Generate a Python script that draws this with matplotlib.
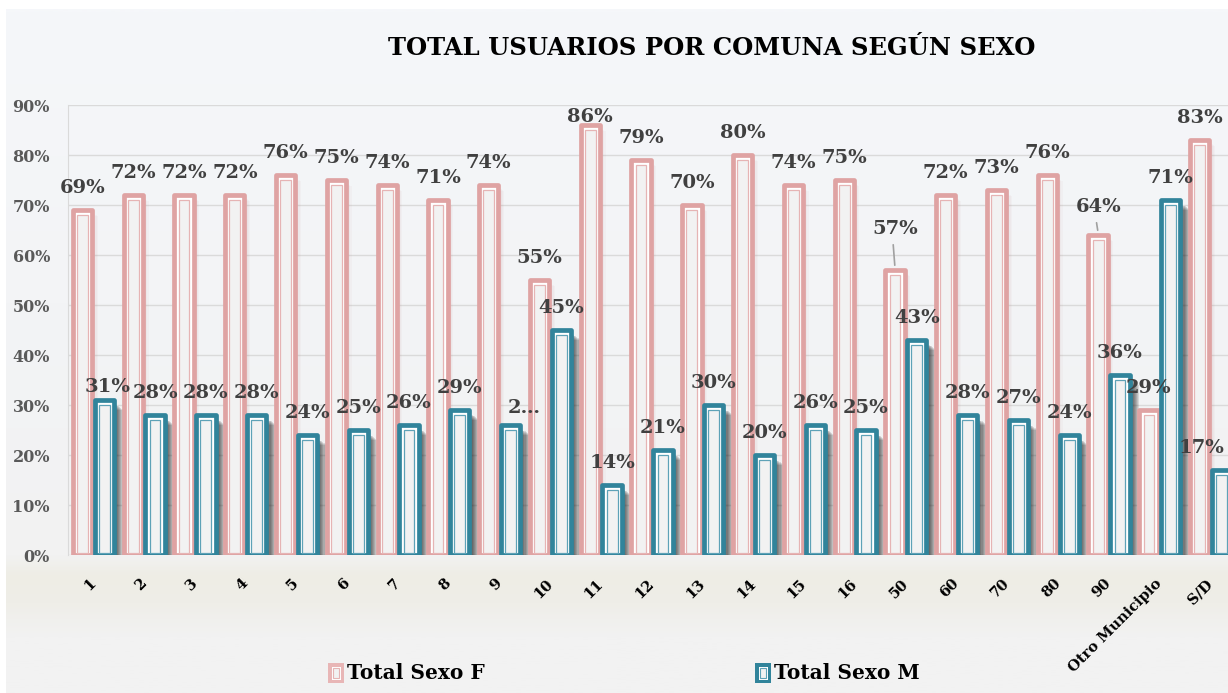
import matplotlib
matplotlib.use('Agg')
import matplotlib.pyplot as plt
import numpy as np
from matplotlib.colors import LinearSegmentedColormap
from matplotlib.patches import Rectangle

# ---------------- data ----------------
categories = ['1', '2', '3', '4', '5', '6', '7', '8', '9', '10', '11', '12', '13',
              '14', '15', '16', '50', '60', '70', '80', '90', 'Otro Municipio', 'S/D']
total_f = [69, 72, 72, 72, 76, 75, 74, 71, 74, 55, 86, 79, 70, 80, 74, 75, 57, 72, 73, 76, 64, 29, 83]
total_m = [31, 28, 28, 28, 24, 25, 26, 29, 26, 45, 14, 21, 30, 20, 26, 25, 43, 28, 27, 24, 36, 71, 17]
y_ticks = [0, 10, 20, 30, 40, 50, 60, 70, 80, 90]
series_names = ['Total Sexo F', 'Total Sexo M']
title = 'TOTAL USUARIOS POR COMUNA SEGÚN SEXO'

# ---------------- style ----------------
W, H = 1228, 693
PINK = '#DFA3A3'
PINK_IN = '#E6B4B4'
TEAL = '#31849B'
TEAL_IN = '#5EA2B7'
FILL = '#F2F2F2'
LBL = '#404040'
SERIF = 'DejaVu Serif'

fig = plt.figure(figsize=(W / 100, H / 100), dpi=100)
fig.patch.set_facecolor('white')

# background gradient (chart area)
bg = fig.add_axes([6 / W, 0, 1 - 6 / W, (H - 9) / H], zorder=-10)
stops = [(0.0, '#F5F7FA'), (0.43, '#F3F4F6'), (0.80, '#F2F2F2'),
         (0.83, '#EEEDE5'), (0.87, '#EFEEE8'), (0.92, '#F2F2F2'), (1.0, '#F2F2F2')]
cmap = LinearSegmentedColormap.from_list('bg', stops)
grad = np.linspace(0, 1, 400).reshape(-1, 1)
bg.imshow(grad, aspect='auto', cmap=cmap, extent=[0, 1, 0, 1], origin='upper')
bg.set_axis_off()

# main axes
x0_px, x1_px = 68, 1236
y0_px, y1_px = 555, 105
ax = fig.add_axes([x0_px / W, (H - y0_px) / H, (x1_px - x0_px) / W, (y0_px - y1_px) / H])
ax.set_facecolor('none')
n = len(categories)
x = np.arange(n)
ax.set_xlim(-0.5, n - 0.5)
ax.set_ylim(0, 0.9)

px_x = (x1_px - x0_px) / n          # pixels per x unit
px_y = (y0_px - y1_px) / 0.9        # pixels per y unit

w = 0.38
off = 0.215
fv = np.array(total_f) / 100
mv = np.array(total_m) / 100

# grid
for t in y_ticks:
    ax.axhline(t / 100, color='#DADADA', lw=1.0, zorder=0)
for s in ['top', 'right', 'bottom']:
    ax.spines[s].set_visible(False)
ax.spines['left'].set_color('#DADADA')

# shadows for M bars (soft drop shadow to the right)
for k in range(8):
    dx = (2 + k * 1.1) / px_x
    ax.bar(x + off + dx, mv - (4 + k * 0.8) / px_y, width=w, bottom=0,
           color='black', alpha=0.11, lw=0, zorder=1)
# light glow for F bars
for k in range(4):
    dx = (2 + k * 1.2) / px_x
    ax.bar(x - off + dx, fv - (3 + k) / px_y, width=w, bottom=0,
           color='#B07070', alpha=0.045, lw=0, zorder=1)

# F bars
ax.bar(x - off, fv, width=w, color='white', edgecolor=PINK, lw=3.4,
       joinstyle='round', zorder=3)
ax.bar(x - off, fv - 6.5 / px_y, width=w - 8.5 / px_x, bottom=2 / px_y,
       color=FILL, edgecolor=PINK_IN, lw=0.9, zorder=4)
# M bars
ax.bar(x + off, mv, width=w, color='white', edgecolor=TEAL, lw=3.4,
       joinstyle='round', zorder=3)
ax.bar(x + off, mv - 6.5 / px_y, width=w - 8.5 / px_x, bottom=2 / px_y,
       color=FILL, edgecolor=TEAL_IN, lw=0.9, zorder=4)

# data labels
default_dy = 17
adj_f = {10: (0, 3), 16: (0, 36), 20: (0, 23)}
adj_m = {0: (3, 8), 8: (14, 12), 22: (-20, 17)}
leader_f = [16, 20]

for i in range(n):
    dx, dy = adj_f.get(i, (0, default_dy))
    ax.annotate(f'{total_f[i]}%', (x[i] - off, fv[i]), xytext=(dx * 0.72, dy * 0.72),
                textcoords='offset points', ha='center', va='baseline',
                fontsize=14, fontweight='bold', family=SERIF, color=LBL,
                zorder=6, annotation_clip=False)
    if i in leader_f:
        ax.annotate('', (x[i] - off, fv[i] + 2 / px_y),
                    xytext=(x[i] - off - 2 / px_x, fv[i] + (dy - 8) / px_y),
                    arrowprops=dict(arrowstyle='-', color='#A0A0A0', lw=1.2), zorder=5)
    dx, dy = adj_m.get(i, (0, default_dy))
    txt = '2…' if i == 8 else f'{total_m[i]}%'
    ax.annotate(txt, (x[i] + off, mv[i]), xytext=(dx * 0.72, dy * 0.72),
                textcoords='offset points', ha='center', va='baseline',
                fontsize=14, fontweight='bold', family=SERIF, color=LBL,
                zorder=6, annotation_clip=False)

# ticks
ax.set_yticks([t / 100 for t in y_ticks])
ax.set_yticklabels([f'{t}%' for t in y_ticks], fontsize=11.5, fontweight='bold',
                   family=SERIF, color='#595959')
ax.tick_params(axis='y', length=0, pad=13)
ax.set_xticks(x)
ax.set_xticklabels(categories, rotation=45, ha='right', va='center',
                   rotation_mode='anchor', fontsize=10.5, fontweight='bold',
                   family=SERIF, color='black')
ax.tick_params(axis='x', length=0, pad=19)

# title
fig.text(712 / W, 1 - 48 / H, title, ha='center', va='center', fontsize=17.5,
         fontweight='bold', family=SERIF, color='black')

# legend
def legend_item(xpx, color, inner, label):
    fig.patches.append(Rectangle((xpx / W, 1 - 683 / H), 16 / W, 20 / H,
                                 transform=fig.transFigure, facecolor=color,
                                 edgecolor='none', zorder=5))
    fig.patches.append(Rectangle(((xpx + 3.5) / W, 1 - 679.5 / H), 9 / W, 13 / H,
                                 transform=fig.transFigure, facecolor='white',
                                 edgecolor='none', zorder=6))
    fig.patches.append(Rectangle(((xpx + 5) / W, 1 - 678 / H), 6 / W, 10 / H,
                                 transform=fig.transFigure, facecolor=FILL,
                                 edgecolor=inner, lw=0.8, zorder=7))
    fig.text((xpx + 19) / W, 1 - 673 / H, label, ha='left', va='center',
             fontsize=14.5, fontweight='bold', family=SERIF, color='black')

legend_item(328, '#E8B6B6', PINK_IN, series_names[0])
legend_item(755, TEAL, TEAL_IN, series_names[1])

fig.savefig('out.png', dpi=100, facecolor=fig.get_facecolor())
